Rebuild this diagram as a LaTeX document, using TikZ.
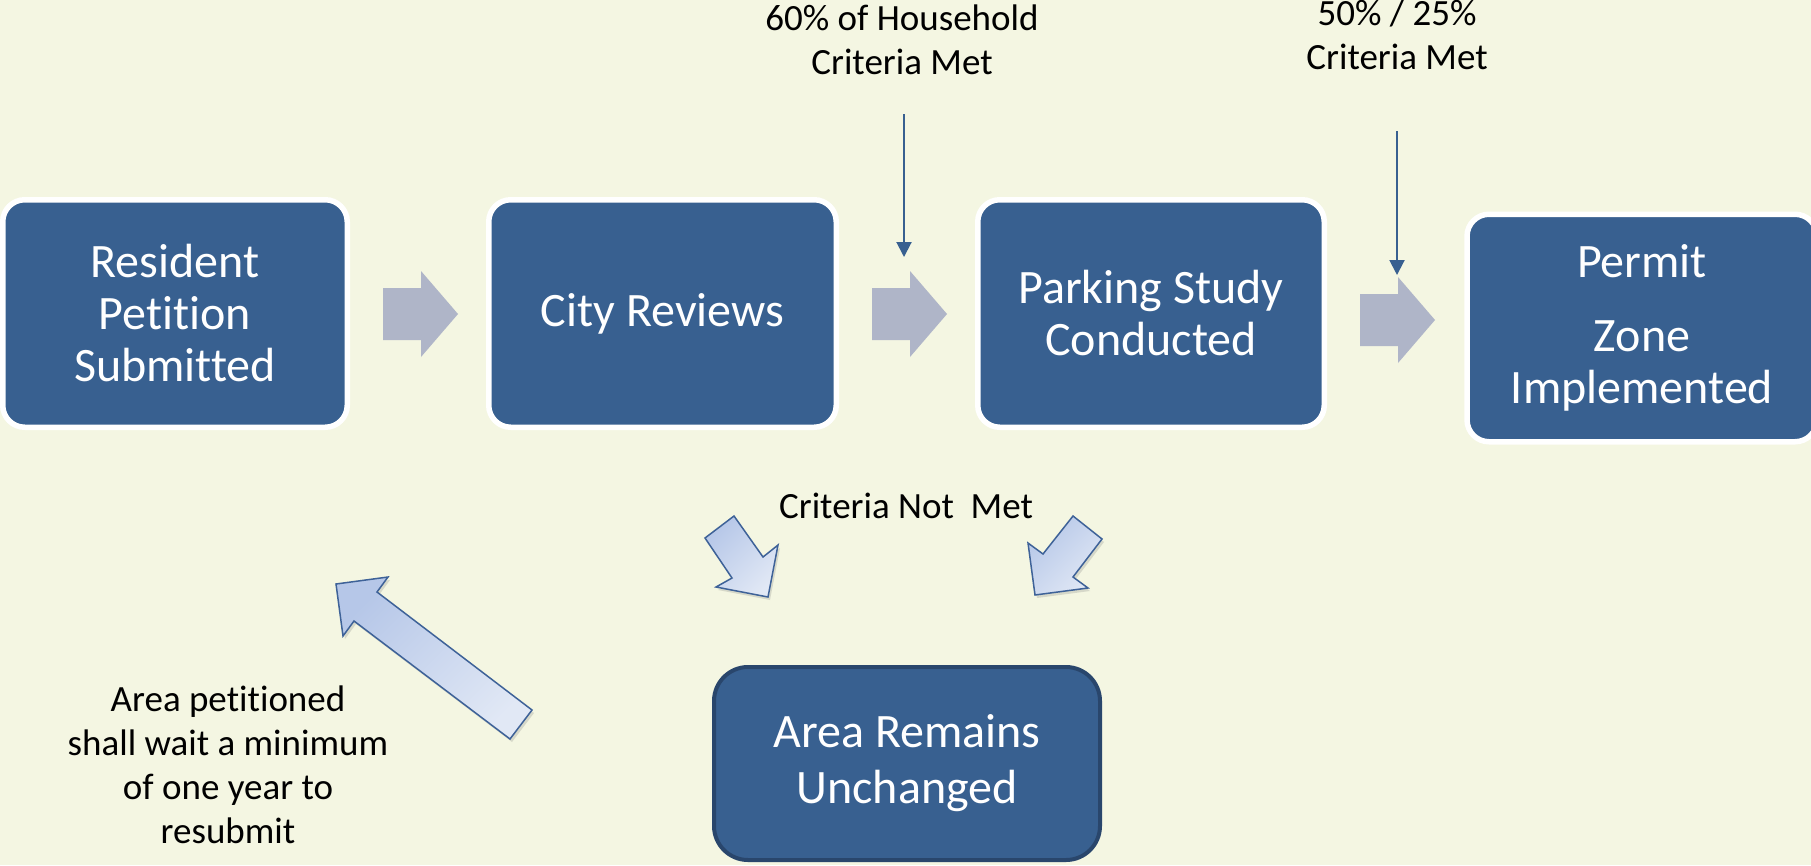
\documentclass[tikz,border=0pt]{standalone}
\usepackage{fontspec}
\setmainfont{Carlito}[Ligatures=NoCommon]
\usetikzlibrary{arrows.meta,shadows}

\definecolor{bgcream}{RGB}{244,246,226}
\definecolor{stepblue}{RGB}{56,96,144}
\definecolor{stepedge}{RGB}{41,70,108}
\definecolor{flowgray}{RGB}{175,181,200}
\definecolor{bendtop}{RGB}{182,199,232}
\definecolor{bendbottom}{RGB}{225,232,245}
\definecolor{bendedge}{RGB}{62,98,152}

\tikzset{
  stepbox/.style={rectangle, rounded corners=22pt, fill=stepblue, draw=white, line width=5.5pt,
    text=white, align=center, inner sep=0pt, font=\fontsize{48}{52}\selectfont},
  notetext/.style={align=center, inner sep=0pt, font=\fontsize{37}{44}\selectfont},
  flowarrow/.style={fill=flowgray},
  bendarrow/.style={draw=bendedge, line width=1.5pt, line join=miter, shading=axis,
    top color=bendtop, bottom color=bendbottom, shading angle=45,
    drop shadow={shadow xshift=2pt, shadow yshift=-3pt, opacity=.25}},
  thinarrow/.style={draw=stepblue, line width=2pt, -{Triangle[width=15pt,length=15pt]}}
}

\begin{document}
\begin{tikzpicture}[x=1pt,y=-1pt]
    \useasboundingbox (0,0) rectangle (1811,865);
    \fill[bgcream] (0,0) rectangle (1811,865);

    \def \Steps {
      resident/175/313.5/344.5/{Resident\\Petition\\Submitted},
      review/662.5/313.5/347.5/{City Reviews},
      study/1151/313.5/346.5/{Parking Study\\Conducted},
      permit/1642/328/350/{Permit\\[22pt]Zone\\Implemented}}

    \foreach \id / \x / \y / \w / \txt in \Steps {
      \node[stepbox, minimum width=\w pt, minimum height=227.5pt] (\id) at (\x,\y) {\txt};
    }
    \node[stepbox, draw=stepedge, line width=4pt, rounded corners=34pt, minimum width=386pt,
      minimum height=193pt, font=\fontsize{48}{59}\selectfont] (unchanged) at (907,763.5)
      {\raisebox{-3pt}{Area Remains}\\[-3pt]\raisebox{-3pt}{Unchanged}};

    % labels
    \node[notetext] (household) at (902,40) {60\% of Household\\Criteria Met};
    \node[notetext] (share) at (1397,35) {50\% / 25\%\\Criteria Met};
    \node[notetext, anchor=base] (notmet) at (906,518) {Criteria Not~~Met};
    \node[notetext] (wait) at (228,765) {Area petitioned\\shall wait a minimum\\of one year to\\resubmit};

    % gray step arrows
    \foreach \x / \y in {383/314, 872/314, 1360/320} {
      \fill[flowarrow] (\x,\y-26) -- ++(38,0) -- ++(0,-17) -- ++(37,43) -- ++(-37,43)
        -- ++(0,-17) -- ++(-38,0) -- cycle;
    }

    % criteria arrows
    \coordinate (householdtail) at (904,114);
    \coordinate (householdhead) at (904,257);
    \coordinate (sharetail) at (1397,131);
    \coordinate (sharehead) at (1397,275);
    \draw[thinarrow] (householdtail) -- (householdhead);
    \draw[thinarrow] (sharetail) -- (sharehead);

    % not met / resubmit arrows
    \path[bendarrow] (705,538) -- (734,516) -- (763,557) -- (778,545) -- (768,597)
      -- (716,587) -- (732,578) -- cycle;
    \path[bendarrow] (1073,516) -- (1102,539) -- (1073,577) -- (1088,588) -- (1035,595)
      -- (1028,543) -- (1043,554) -- cycle;
    \path[bendarrow] (336,584) -- (388,577) -- (377,592) -- (532,710) -- (510,739)
      -- (354,621) -- (343,636) -- cycle;
\end{tikzpicture}
\end{document}
